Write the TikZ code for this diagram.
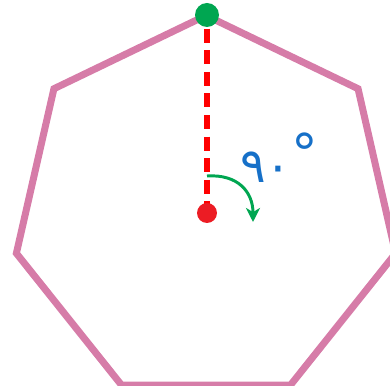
\documentclass[tikz,border=0pt]{standalone}
\usepackage{fontspec}
\newfontfamily\arabicfont[Script=Arabic]{DejaVu Sans}
\usetikzlibrary{arrows.meta}
\definecolor{heptpink}{RGB}{214,124,168}
\definecolor{dotgreen}{RGB}{0,166,81}
\definecolor{dotred}{RGB}{236,28,36}
\definecolor{numblue}{RGB}{22,112,200}

\begin{document}
\begin{tikzpicture}[x=0.025cm,y=-0.025cm,
  heptline/.style={color=heptpink,line width=0.175cm,line join=miter}]
\useasboundingbox (0,0) rectangle (390,386);
\clip (0,0) rectangle (390,386);
% heptagon
\begin{scope}[shift={(206,210)}]
\draw[heptline] (-90:194.5) \foreach \k in {1,...,6} { -- ({-90+\k*360/7}:194.5) } -- cycle;
\end{scope}
% radius to the top corner
\coordinate (mid) at (207,213);
\coordinate (apex) at (207,15);
\draw[red,line width=0.125cm,dash pattern=on 0.35cm off 0.19cm,dash phase=0.2cm] (apex) -- (mid);
\fill[dotred] (mid) circle[radius=10];
\fill[dotgreen] (apex) circle[radius=12];
% turning arrow
\coordinate (turnA) at (207,176);
\coordinate (turnB) at (253,222);
\draw[dotgreen,line width=2.1pt,-{Stealth[length=10pt,width=10pt,inset=3pt]}] (turnA) .. controls (238,174) and (253,192) .. (turnB);
\node[text=numblue,font=\arabicfont\fontsize{34}{40}\selectfont,anchor=base west,inner sep=0pt] (angle) at (240,183) {٩٠\raisebox{0.22em}{\fontsize{38}{42}\selectfont°}};
\end{tikzpicture}
\end{document}
